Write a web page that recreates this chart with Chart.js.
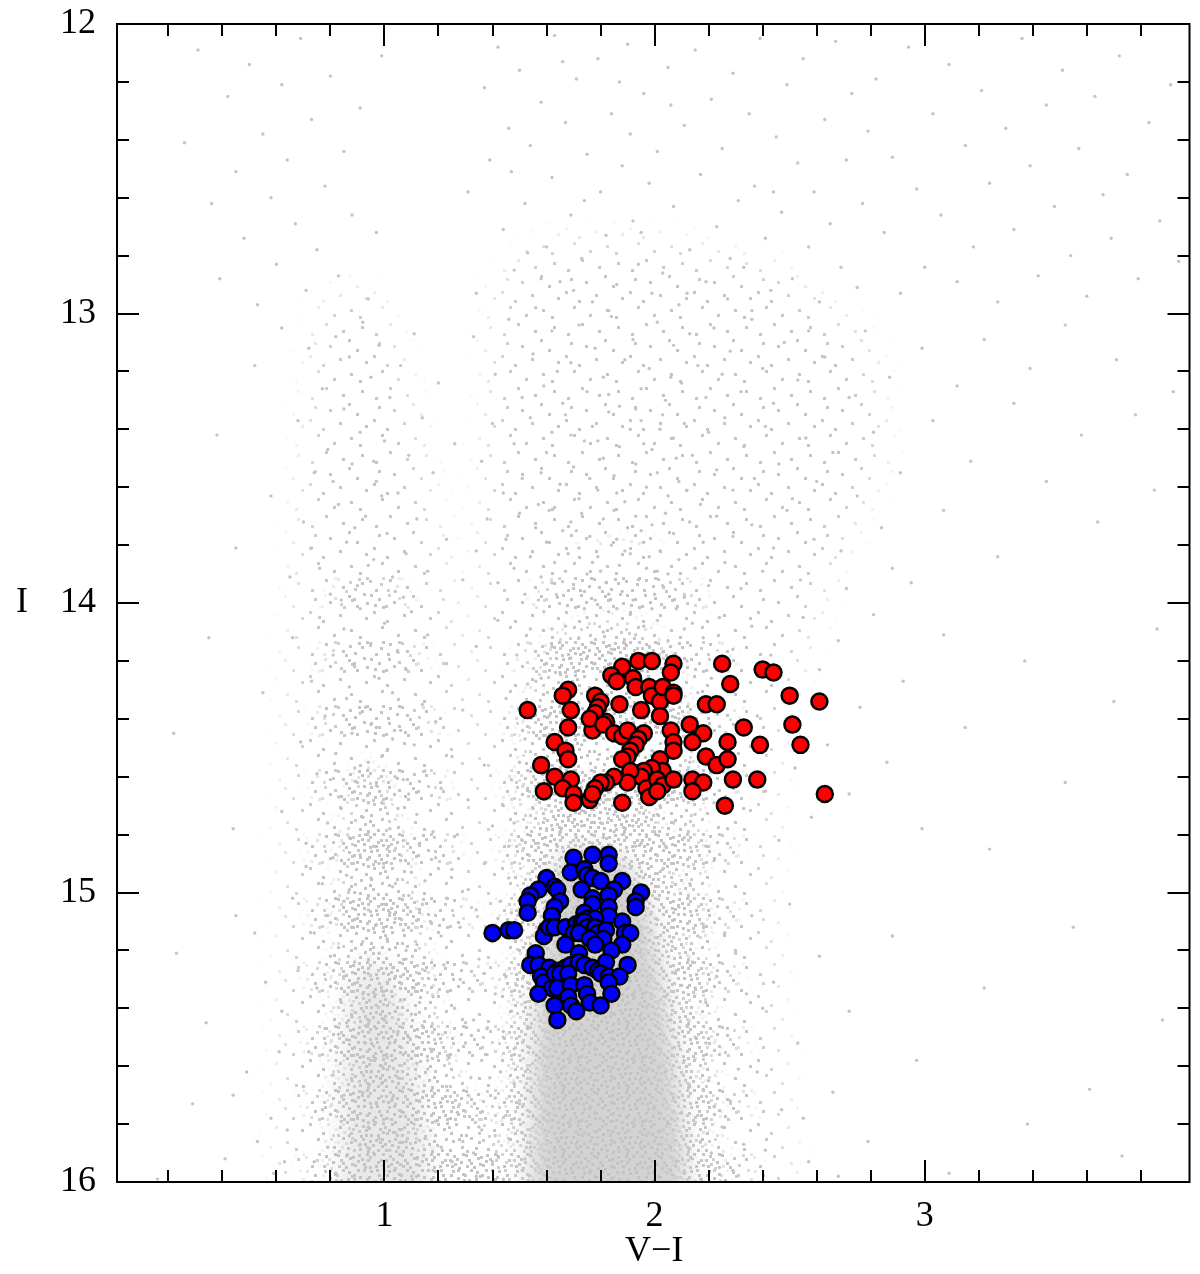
<!DOCTYPE html>
<html>
<head>
<meta charset="utf-8">
<script src="https://cdn.jsdelivr.net/npm/chart.js@4.4.1/dist/chart.umd.min.js"></script>
<style>
  html, body { margin: 0; padding: 0; background: #fff; }
  canvas { display: block; }
</style>
</head>
<body>
<canvas id="cmd" width="1200" height="1274"></canvas>
<script>
/* ── Colour–magnitude diagram: I vs V−I ── */

// axis ranges and tick values
const xRange = [0.01, 3.98];
const yRange = [12, 16];
const xMajor = [1, 2, 3];
const xMinor = [0.2, 0.4, 0.6, 0.8, 1.2, 1.4, 1.6, 1.8, 2.2, 2.4, 2.6, 2.8, 3.2, 3.4, 3.6, 3.8];
const yMajor = [12, 13, 14, 15, 16];
const yMinor = [12.2, 12.4, 12.6, 12.8, 13.2, 13.4, 13.6, 13.8, 14.2, 14.4, 14.6, 14.8, 15.2, 15.4, 15.6, 15.8];

// red clump sample (V−I, I)
const redStars = [
  1.53,14.37, 1.68,14.30, 1.66,14.32, 1.69,14.37, 1.68,14.43, 1.63,14.48, 1.58,14.56, 1.67,14.51,
  1.68,14.54, 1.63,14.60, 1.59,14.65, 1.69,14.61, 1.66,14.64, 1.70,14.66, 1.70,14.69, 1.77,14.44,
  1.78,14.32, 1.80,14.34, 1.79,14.36, 1.78,14.38, 1.76,14.40, 1.87,14.35, 1.82,14.41, 1.81,14.42,
  1.85,14.45, 1.88,14.46, 1.90,14.44, 1.88,14.22, 1.94,14.20, 1.99,14.20, 2.07,14.21, 2.06,14.24,
  1.84,14.25, 1.86,14.27, 1.92,14.26, 1.93,14.29, 1.95,14.37, 1.98,14.29, 1.99,14.32, 2.02,14.34,
  2.03,14.29, 2.07,14.31, 2.02,14.39, 2.06,14.44, 2.07,14.48, 2.07,14.51, 1.96,14.45, 1.94,14.47,
  1.93,14.49, 1.91,14.51, 1.90,14.53, 1.88,14.54, 2.02,14.54, 2.03,14.58, 1.99,14.57, 1.96,14.58,
  1.95,14.60, 1.91,14.58, 1.90,14.62, 1.85,14.60, 1.82,14.62, 1.80,14.62, 1.78,14.64, 1.76,14.68,
  1.77,14.66, 1.88,14.69, 1.97,14.64, 1.98,14.67, 2.01,14.61, 2.03,14.63, 2.07,14.61, 2.01,14.65,
  2.07,14.32, 2.25,14.21, 2.40,14.23, 2.44,14.24, 2.28,14.28, 2.19,14.35, 2.23,14.35, 2.50,14.32,
  2.61,14.34, 2.13,14.42, 2.33,14.43, 2.51,14.42, 2.18,14.45, 2.14,14.48, 2.27,14.48, 2.39,14.49,
  2.54,14.49, 2.19,14.53, 2.23,14.56, 2.27,14.54, 2.29,14.61, 2.38,14.61, 2.14,14.61, 2.18,14.62,
  2.14,14.65, 2.26,14.70, 2.63,14.66
];

// blue sample (V−I, I)
const blueStars = [
  1.70,14.88, 1.77,14.87, 1.83,14.87, 1.83,14.90, 1.69,14.93, 1.74,14.92, 1.75,14.94, 1.77,14.95,
  1.80,14.96, 1.60,14.95, 1.88,14.96, 1.57,14.99, 1.63,14.98, 1.64,14.99, 1.73,14.99, 1.85,14.99,
  1.83,15.01, 1.95,15.00, 1.93,15.03, 1.93,15.05, 1.54,15.01, 1.53,15.03, 1.65,15.03, 1.77,15.02,
  1.77,15.04, 1.53,15.07, 1.63,15.05, 1.62,15.08, 1.83,15.05, 1.83,15.08, 1.74,15.07, 1.75,15.09,
  1.78,15.09, 1.88,15.10, 1.40,15.14, 1.46,15.13, 1.48,15.13, 1.60,15.13, 1.59,15.15, 1.61,15.12,
  1.63,15.12, 1.67,15.12, 1.71,15.11, 1.73,15.10, 1.74,15.10, 1.75,15.12, 1.78,15.12, 1.79,15.14,
  1.82,15.13, 1.81,15.16, 1.70,15.14, 1.72,15.14, 1.89,15.14, 1.91,15.14, 1.67,15.18, 1.76,15.16,
  1.78,15.18, 1.88,15.18, 1.56,15.21, 1.72,15.21, 1.84,15.20, 1.54,15.25, 1.57,15.25, 1.61,15.26,
  1.64,15.27, 1.67,15.26, 1.69,15.25, 1.72,15.24, 1.74,15.25, 1.77,15.26, 1.79,15.27, 1.82,15.24,
  1.90,15.25, 1.58,15.29, 1.59,15.31, 1.63,15.28, 1.65,15.28, 1.68,15.28, 1.80,15.28, 1.83,15.29,
  1.87,15.29, 1.62,15.33, 1.64,15.33, 1.69,15.32, 1.74,15.32, 1.83,15.31, 1.57,15.35, 1.68,15.36,
  1.75,15.35, 1.76,15.38, 1.84,15.35, 1.63,15.39, 1.69,15.39, 1.71,15.41, 1.80,15.39, 1.64,15.44
];

// field stars, upper part (I 12 – 13)
const fieldUpper = [
  0.26,12.41, 0.31,12.09, 0.36,12.62, 0.39,12.88, 0.42,12.25, 0.45,12.51, 0.48,12.74, 0.50,12.14,
  0.53,12.97, 0.55,12.38, 0.58,12.60, 0.60,12.83, 0.62,12.21, 0.64,12.47, 0.67,12.69, 0.69,12.05,
  0.71,12.92, 0.73,12.33, 0.75,12.78, 0.78,12.56, 0.80,12.18, 0.83,12.87, 0.85,12.44, 0.88,12.66,
  0.91,12.29, 0.94,12.95, 0.97,12.72, 0.99,12.11,
  1.31,12.58, 1.34,12.93, 1.37,12.22, 1.39,12.47, 1.42,12.08, 1.44,12.71, 1.46,12.36, 1.48,12.85,
  1.50,12.16, 1.52,12.62, 1.54,12.42, 1.56,12.98, 1.58,12.27, 1.60,12.77, 1.62,12.53, 1.63,12.04,
  1.65,12.89, 1.67,12.34, 1.69,12.66, 1.71,12.19, 1.73,12.81, 1.75,12.45, 1.77,12.96, 1.79,12.12,
  1.80,12.58, 1.82,12.73, 1.84,12.31, 1.86,12.90, 1.88,12.49, 1.90,12.07, 1.92,12.68, 1.94,12.83,
  1.96,12.24, 1.98,12.55, 1.99,12.93, 1.47,12.51, 1.58,12.88, 1.66,12.13, 1.74,12.61, 1.83,12.99,
  1.91,12.38, 1.53,12.79, 1.70,12.92, 1.87,12.20, 1.95,12.72,
  2.01,12.44, 2.03,12.86, 2.05,12.15, 2.07,12.63, 2.09,12.97, 2.11,12.35, 2.13,12.78, 2.15,12.09,
  2.17,12.52, 2.19,12.89, 2.21,12.26, 2.23,12.70, 2.25,12.43, 2.27,12.95, 2.29,12.17, 2.31,12.61,
  2.33,12.84, 2.35,12.31, 2.37,12.56, 2.39,12.05, 2.41,12.74, 2.43,12.92, 2.45,12.39, 2.47,12.65,
  2.49,12.21, 2.51,12.88, 2.53,12.48, 2.55,12.12, 2.57,12.77, 2.59,12.58, 2.61,12.96, 2.63,12.33,
  2.65,12.69, 2.67,12.06, 2.69,12.84, 2.71,12.47, 2.73,12.24, 2.75,12.91, 2.77,12.62, 2.79,12.37,
  2.12,12.93, 2.28,12.81, 2.44,12.58, 2.06,12.28, 2.36,12.99,
  2.82,12.19, 2.85,12.72, 2.88,12.46, 2.91,12.93, 2.94,12.08, 2.97,12.57, 3.00,12.84, 3.03,12.31,
  3.06,12.66, 3.09,12.14, 3.12,12.89, 3.15,12.42, 3.18,12.77, 3.21,12.23, 3.24,12.55, 3.27,12.96,
  3.30,12.36, 3.33,12.71, 3.36,12.05, 3.39,12.49, 3.42,12.87, 3.45,12.28, 3.48,12.63, 3.51,12.16,
  3.54,12.80, 3.57,12.43, 3.60,12.94, 3.63,12.25, 3.66,12.59, 3.69,12.74, 3.72,12.11, 3.75,12.52,
  3.79,12.88, 3.83,12.34, 3.87,12.68, 3.91,12.21, 3.94,12.82
];

// field stars, I 13 – 14
const fieldMiddle = [
  0.38,13.42, 0.45,13.81, 0.52,13.18, 0.58,13.63, 0.62,13.05, 0.65,13.91, 0.68,13.37, 0.70,13.72,
  0.72,13.12, 0.74,13.55, 0.76,13.88, 0.77,13.26, 0.79,13.47, 0.80,13.97, 0.82,13.08, 0.83,13.66,
  0.85,13.33, 0.86,13.79, 0.87,13.15, 0.88,13.52, 0.90,13.94, 0.91,13.41, 0.92,13.03, 0.93,13.70,
  0.95,13.22, 0.96,13.85, 0.97,13.58, 0.98,13.11, 1.00,13.44, 1.01,13.76, 1.02,13.29, 1.04,13.96,
  1.05,13.62, 1.06,13.18, 1.08,13.83, 1.09,13.49, 1.11,13.07, 1.12,13.71, 1.14,13.36, 1.16,13.89,
  1.18,13.55, 1.20,13.24, 1.23,13.78, 1.26,13.45, 1.29,13.92, 0.84,13.99, 0.94,13.87, 1.03,13.91,
  0.89,13.74, 0.99,13.63, 0.81,13.58, 0.73,13.81, 1.07,13.98, 0.96,13.51,
  1.33,13.08, 1.41,13.21, 1.46,13.02, 1.51,13.29, 1.55,13.14, 1.59,13.25, 1.62,13.06, 1.66,13.31,
  1.69,13.17, 1.72,13.04, 1.75,13.27, 1.78,13.12, 1.81,13.22, 1.84,13.01, 1.87,13.32, 1.89,13.16,
  1.92,13.09, 1.95,13.26, 1.98,13.19, 2.01,13.03, 2.04,13.30, 2.07,13.11, 2.10,13.24, 2.13,13.07,
  2.16,13.18, 2.19,13.29, 2.22,13.05, 2.25,13.21, 2.28,13.13, 2.32,13.27, 2.36,13.02, 2.40,13.19,
  2.44,13.31, 2.48,13.10, 2.53,13.23, 2.57,13.06, 1.64,13.20, 1.83,13.28, 2.06,13.22, 1.93,13.33,
  1.36,13.51, 1.40,13.38, 1.44,13.62, 1.48,13.45, 1.51,13.57, 1.54,13.36, 1.57,13.66, 1.60,13.48,
  1.62,13.41, 1.65,13.59, 1.67,13.35, 1.70,13.53, 1.72,13.64, 1.74,13.44, 1.77,13.39, 1.79,13.61,
  1.81,13.50, 1.83,13.34, 1.85,13.56, 1.87,13.46, 1.89,13.65, 1.91,13.40, 1.93,13.52, 1.95,13.37,
  1.97,13.60, 1.99,13.47, 2.01,13.55, 2.03,13.35, 2.05,13.63, 2.07,13.43, 2.09,13.58, 2.11,13.38,
  2.14,13.49, 2.17,13.66, 2.20,13.41, 2.23,13.54, 2.26,13.36, 2.29,13.61, 2.33,13.46, 2.37,13.57,
  2.41,13.39, 2.46,13.52, 2.51,13.64, 2.56,13.43, 2.60,13.58, 1.58,13.55, 1.69,13.42, 1.76,13.57,
  1.86,13.62, 1.96,13.45, 2.02,13.40, 2.12,13.61, 1.63,13.67, 1.79,13.44, 2.08,13.50,
  1.34,13.82, 1.38,13.71, 1.42,13.93, 1.45,13.78, 1.48,13.88, 1.50,13.69, 1.52,13.97, 1.54,13.84,
  1.56,13.74, 1.58,13.91, 1.60,13.79, 1.61,13.68, 1.63,13.86, 1.64,13.98, 1.66,13.75, 1.67,13.89,
  1.69,13.72, 1.70,13.95, 1.72,13.81, 1.73,13.69, 1.75,13.90, 1.76,13.77, 1.78,13.99, 1.79,13.84,
  1.81,13.71, 1.82,13.93, 1.84,13.80, 1.85,13.68, 1.87,13.87, 1.88,13.96, 1.90,13.74, 1.91,13.83,
  1.93,13.70, 1.94,13.92, 1.96,13.79, 1.97,13.88, 1.99,13.73, 2.00,13.97, 2.02,13.82, 2.04,13.69,
  2.05,13.90, 2.07,13.76, 2.09,13.85, 2.11,13.98, 2.13,13.72, 2.15,13.88, 2.18,13.79, 2.20,13.94,
  2.23,13.70, 2.26,13.86, 2.29,13.77, 2.32,13.95, 2.36,13.73, 2.40,13.89, 2.44,13.81, 2.49,13.68,
  2.54,13.92, 2.59,13.78, 1.57,13.99, 1.62,13.93, 1.68,13.83, 1.74,13.96, 1.80,13.89, 1.86,13.78,
  1.92,13.99, 1.98,13.84, 2.03,13.94, 1.71,13.75, 1.77,13.86, 1.83,13.97, 1.89,13.82, 1.95,13.75,
  2.01,13.89,
  2.63,13.15, 2.66,13.48, 2.69,13.82, 2.72,13.29, 2.75,13.63, 2.78,13.06, 2.81,13.41, 2.84,13.74,
  2.87,13.22, 2.91,13.55, 2.95,13.93, 2.99,13.12, 3.03,13.37, 3.07,13.68, 3.12,13.25, 3.17,13.51,
  3.22,13.09, 3.27,13.84, 3.33,13.31, 3.39,13.19, 3.45,13.58, 3.52,13.04, 3.58,13.42, 3.64,13.72,
  3.71,13.16, 3.78,13.35, 3.85,13.61, 3.92,13.27, 2.71,13.95, 2.88,13.88
];

// field stars, I 14 – 14.85
const fieldLower = [
  0.55,14.31, 0.62,14.72, 0.66,14.12, 0.69,14.48, 0.71,14.83, 0.73,14.27, 0.75,14.59, 0.76,14.05,
  0.78,14.39, 0.79,14.76, 0.81,14.18, 0.82,14.52, 0.83,14.67, 0.85,14.09, 0.86,14.33, 0.87,14.81,
  0.88,14.45, 0.89,14.22, 0.90,14.62, 0.91,14.02, 0.92,14.74, 0.93,14.36, 0.94,14.55, 0.95,14.14,
  0.96,14.84, 0.97,14.43, 0.98,14.26, 0.99,14.69, 1.00,14.07, 1.01,14.51, 1.02,14.78, 1.03,14.31,
  1.04,14.60, 1.05,14.17, 1.06,14.44, 1.07,14.82, 1.08,14.23, 1.09,14.66, 1.10,14.03, 1.11,14.49,
  1.12,14.73, 1.14,14.35, 1.15,14.58, 1.16,14.11, 1.18,14.79, 1.19,14.41, 1.21,14.64, 1.23,14.21,
  1.25,14.53, 1.27,14.80, 1.29,14.37, 1.31,14.68, 1.34,14.15, 1.37,14.56, 1.40,14.77, 0.84,14.71,
  0.89,14.57, 0.93,14.80, 0.97,14.63, 1.01,14.85, 1.05,14.71, 0.87,14.29, 0.95,14.42, 1.03,14.47,
  0.91,14.38, 0.80,14.61, 0.99,14.53, 1.07,14.61, 1.13,14.83, 0.94,14.69,
  1.42,14.06, 1.45,14.33, 1.47,14.61, 1.49,14.18, 1.51,14.82, 1.52,14.47, 1.54,14.09, 1.55,14.71,
  1.56,14.27, 1.58,14.56, 1.59,14.03, 1.60,14.78, 1.61,14.39, 1.62,14.15, 1.63,14.66, 1.64,14.84,
  1.65,14.24, 1.66,14.52, 1.67,14.08, 1.68,14.74, 1.69,14.19, 1.70,14.58, 1.71,14.81, 1.72,14.12,
  1.73,14.49, 1.74,14.72, 1.75,14.05, 1.76,14.63, 1.77,14.83, 1.78,14.21, 1.79,14.54, 1.80,14.76,
  1.81,14.10, 1.82,14.68, 1.83,14.85, 1.84,14.16, 1.85,14.73, 1.86,14.02, 1.87,14.57, 1.88,14.80,
  1.89,14.14, 1.90,14.69, 1.91,14.04, 1.92,14.77, 1.93,14.11, 1.94,14.62, 1.95,14.83, 1.96,14.08,
  1.97,14.74, 1.98,14.15, 1.99,14.51, 2.00,14.79, 2.01,14.06, 2.02,14.70, 2.03,14.17, 2.04,14.84,
  2.05,14.13, 2.06,14.59, 2.07,14.76, 2.08,14.02, 2.09,14.40, 2.10,14.67, 2.11,14.81, 2.12,14.20,
  2.13,14.55, 2.14,14.07, 2.15,14.73, 2.16,14.31, 2.17,14.62, 2.18,14.12, 2.19,14.84, 2.20,14.45,
  2.21,14.26, 2.22,14.69, 2.24,14.05, 2.25,14.58, 2.27,14.78, 2.29,14.16, 2.31,14.52, 2.33,14.71,
  1.48,14.76, 1.53,14.64, 1.57,14.83, 1.61,14.70, 1.65,14.79, 1.69,14.85, 1.73,14.77, 1.77,14.71,
  1.81,14.81, 1.85,14.79, 1.89,14.74, 1.93,14.84, 1.97,14.80, 2.01,14.73, 1.58,14.26, 1.67,14.31,
  1.74,14.02, 1.83,14.03, 1.99,14.02, 2.11,14.09, 1.62,14.09, 1.72,14.37, 1.50,14.55, 1.44,14.70,
  1.53,14.28, 1.46,14.84,
  2.36,14.08, 2.38,14.39, 2.41,14.65, 2.43,14.18, 2.46,14.82, 2.49,14.30, 2.52,14.57, 2.55,14.05,
  2.58,14.74, 2.61,14.23, 2.64,14.49, 2.68,14.13, 2.72,14.66, 2.76,14.36, 2.81,14.04, 2.86,14.55,
  2.92,14.27, 2.99,14.78, 3.07,14.11, 3.15,14.43, 3.24,14.85, 3.37,14.20, 3.52,14.62, 3.70,14.34,
  3.86,14.09, 0.22,14.45, 0.35,14.12, 0.44,14.78
];

// field stars, I 14.85 – 16
const fieldBottom = [
  0.66,15.02, 0.71,14.91, 0.74,15.14, 0.77,14.97, 0.79,15.08, 0.81,14.88, 0.83,15.19, 0.85,15.03,
  0.86,14.94, 0.88,15.12, 0.89,15.00, 0.91,14.87, 0.92,15.17, 0.94,15.06, 0.95,14.95, 0.97,15.11,
  0.98,14.90, 1.00,15.04, 1.01,15.16, 1.03,14.98, 1.04,15.09, 1.06,14.89, 1.07,15.13, 1.09,15.01,
  1.10,14.93, 1.12,15.18, 1.13,15.07, 1.15,14.96, 1.17,15.10, 1.19,14.88, 1.21,15.15, 1.23,15.02,
  1.25,14.92, 1.28,15.12, 1.31,14.99, 1.34,15.06, 1.37,14.90, 1.40,15.17, 1.43,15.03, 0.90,15.09,
  0.96,15.19, 1.02,15.07, 1.08,15.20, 1.14,15.04, 0.87,14.99,
  0.62,15.41, 0.68,15.27, 0.72,15.55, 0.75,15.33, 0.78,15.47, 0.80,15.22, 0.82,15.58, 0.84,15.38,
  0.85,15.29, 0.87,15.51, 0.88,15.43, 0.89,15.24, 0.91,15.57, 0.92,15.35, 0.93,15.46, 0.94,15.28,
  0.96,15.53, 0.97,15.39, 0.98,15.21, 0.99,15.60, 1.00,15.44, 1.01,15.31, 1.02,15.52, 1.03,15.26,
  1.05,15.48, 1.06,15.37, 1.07,15.56, 1.08,15.23, 1.10,15.42, 1.11,15.33, 1.12,15.59, 1.14,15.46,
  1.15,15.27, 1.17,15.54, 1.18,15.36, 1.20,15.49, 1.22,15.25, 1.24,15.57, 1.26,15.40, 1.28,15.30,
  1.30,15.52, 1.33,15.44, 1.35,15.23, 1.38,15.56, 1.41,15.35, 1.44,15.48, 0.86,15.45, 0.90,15.31,
  0.95,15.58, 0.99,15.34, 1.04,15.41, 1.09,15.50, 1.13,15.38, 0.93,15.52, 0.97,15.47, 1.01,15.57,
  1.06,15.29, 0.83,15.49, 1.16,15.58,
  0.64,15.82, 0.70,15.67, 0.74,15.93, 0.77,15.75, 0.79,15.88, 0.81,15.63, 0.82,15.97, 0.84,15.79,
  0.85,15.70, 0.86,15.91, 0.87,15.84, 0.88,15.65, 0.89,15.99, 0.90,15.77, 0.91,15.87, 0.92,15.69,
  0.93,15.95, 0.94,15.81, 0.95,15.62, 0.96,15.90, 0.97,15.73, 0.98,15.85, 0.99,15.66, 1.00,15.96,
  1.01,15.78, 1.02,15.89, 1.03,15.71, 1.04,15.83, 1.05,15.64, 1.06,15.94, 1.07,15.76, 1.08,15.86,
  1.09,15.68, 1.10,15.98, 1.11,15.80, 1.12,15.92, 1.13,15.72, 1.15,15.85, 1.16,15.61, 1.18,15.96,
  1.19,15.79, 1.21,15.88, 1.23,15.67, 1.25,15.93, 1.27,15.76, 1.29,15.86, 1.31,15.70, 1.34,15.98,
  1.36,15.82, 1.39,15.64, 1.42,15.91, 1.45,15.77,
  1.32,15.64, 1.35,15.81, 1.38,15.47, 1.40,15.93, 1.43,15.62, 1.45,15.29, 1.46,15.85, 1.48,15.54,
  1.49,15.12, 1.50,15.73, 1.51,15.96, 1.52,15.38, 1.53,15.61, 1.54,15.88, 1.55,15.24, 1.47,15.41,
  1.44,15.99, 1.41,15.71, 1.37,15.28, 1.33,15.90, 1.30,15.45, 1.42,15.09, 1.46,14.95, 1.50,15.20,
  1.53,15.02, 1.39,15.15, 1.48,15.66, 1.51,15.83, 1.36,15.58, 1.44,15.50, 1.52,15.92, 1.49,15.32,
  1.55,15.77, 1.53,15.47, 1.47,15.07, 1.41,15.84,
  2.03,14.92, 2.05,15.18, 2.06,15.44, 2.07,15.71, 2.08,15.93, 2.09,15.05, 2.10,15.32, 2.11,15.58,
  2.12,15.84, 2.13,14.97, 2.14,15.24, 2.15,15.50, 2.16,15.77, 2.17,15.99, 2.18,15.11, 2.19,15.38,
  2.20,15.65, 2.21,15.90, 2.22,14.89, 2.23,15.29, 2.24,15.56, 2.25,15.81, 2.26,15.14, 2.27,15.47,
  2.28,15.72, 2.29,15.96, 2.30,15.21, 2.31,15.61, 2.33,15.87, 2.34,15.35, 2.04,15.62, 2.06,15.88,
  2.08,15.27, 2.10,15.76, 2.12,15.46, 2.14,15.92, 2.16,15.15, 2.18,15.68, 2.04,15.36, 2.07,15.07,
  2.09,15.53, 2.11,15.97, 2.13,15.67, 2.15,15.33, 2.17,15.86, 2.05,15.80, 2.02,15.49, 2.19,15.52,
  2.22,15.74, 2.06,15.96, 2.24,15.95,
  2.36,15.08, 2.38,15.62, 2.41,15.89, 2.44,15.31, 2.47,15.75, 2.50,15.04, 2.53,15.52, 2.57,15.93,
  2.61,15.22, 2.66,15.69, 2.72,15.41, 2.79,15.86, 2.88,15.15, 2.97,15.58, 3.09,15.97, 3.22,15.33,
  3.38,15.80, 3.55,15.12, 3.61,15.68, 3.73,15.91, 3.88,15.44, 2.40,15.40, 2.55,15.78, 2.68,15.98,
  0.16,15.99, 0.23,15.21, 0.29,15.73, 0.34,15.45, 0.41,15.92, 0.45,15.08, 0.49,15.62, 0.53,15.86,
  0.56,15.31, 0.59,15.97, 0.61,15.55, 0.52,15.14, 0.44,15.70, 0.58,15.78, 0.63,15.93
];

// crowding contours (V−I, I), from sparse to nearly solid
const crowdLight = [
  [1.35,16.0, 1.35,15.0, 1.36,14.2, 1.38,13.5, 1.42,12.9, 1.60,12.75, 2.00,12.75, 2.45,12.85, 2.80,13.1, 2.85,13.5, 2.60,14.0, 2.45,14.5, 2.42,15.0, 2.50,16.0],
  [0.62,16.0, 0.64,15.0, 0.66,14.3, 0.70,13.6, 0.76,13.0, 0.88,12.9, 1.00,13.0, 1.10,13.3, 1.22,13.9, 1.30,14.4, 1.35,15.0, 1.40,16.0]
];
const crowdMedium = [
  [0.72,16.0, 0.73,15.4, 0.75,14.9, 0.77,14.4, 0.80,14.0, 0.88,13.85, 0.98,13.85, 1.08,14.0, 1.15,14.3, 1.22,14.7, 1.30,15.1, 1.40,15.4, 1.45,16.0],
  [1.42,16.0, 1.43,15.4, 1.45,14.9, 1.47,14.5, 1.52,14.15, 1.60,13.9, 1.78,13.8, 1.98,13.8, 2.15,13.95, 2.28,14.25, 2.30,14.7, 2.28,15.1, 2.32,15.6, 2.36,16.0]
];
const crowdDense = [
  [0.80,16.0, 0.81,15.5, 0.83,15.0, 0.86,14.7, 0.92,14.55, 1.00,14.6, 1.08,14.85, 1.15,15.2, 1.22,15.5, 1.30,15.7, 1.40,15.8, 1.48,16.0],
  [1.46,16.0, 1.47,15.5, 1.49,15.0, 1.50,14.6, 1.54,14.3, 1.62,14.12, 1.78,14.05, 1.98,14.08, 2.10,14.25, 2.16,14.6, 2.18,15.0, 2.21,15.5, 2.25,16.0]
];
const crowdCore = [
  [1.48,16.0, 1.49,15.5, 1.52,15.0, 1.56,14.72, 1.70,14.6, 1.90,14.62, 2.05,14.8, 2.12,15.2, 2.16,15.6, 2.20,16.0]
];
const crowdPlume = [
  [0.84,16.0, 0.85,15.6, 0.88,15.3, 0.98,15.22, 1.07,15.4, 1.13,15.7, 1.17,16.0]
];
const crowdSolid = [
  [1.54,16.0, 1.55,15.6, 1.57,15.3, 1.61,15.0, 1.67,14.86, 1.85,14.86, 1.96,15.0, 2.03,15.3, 2.08,15.6, 2.12,16.0]
];

// speckle offsets inside one 64 px texture tile (first entries spread widest)
const speckle = [
  5,3, 22,10, 41,6, 55,13, 9,25, 28,19, 36,29, 58,22, 2,44, 19,38, 45,41, 53,35, 13,58, 30,53, 39,60, 61,50,
  12,9, 3,13, 14,1, 17,2, 29,5, 25,14, 34,12, 46,1, 38,2, 49,4, 60,7, 62,1,
  4,18, 14,21, 1,29, 20,27, 31,23, 23,30, 43,17, 33,22, 46,26, 50,18, 54,28, 62,30,
  7,35, 12,46, 0,38, 26,33, 30,44, 17,46, 35,36, 40,47, 47,33, 59,40, 50,46, 62,34,
  4,52, 10,50, 1,61, 22,49, 18,62, 27,59, 34,51, 44,55, 47,62, 52,56, 57,61, 49,52,
  8,6, 1,7, 10,15, 6,11, 20,7, 26,1, 31,11, 18,13, 37,8, 43,11, 32,4, 47,7, 53,1, 57,9, 62,12, 49,14,
  9,17, 6,30, 15,27, 2,22, 16,22, 27,26, 22,17, 30,30, 39,24, 32,30, 42,31, 37,17, 56,17, 48,24, 60,26, 52,31,
  4,41, 10,33, 14,40, 8,43, 22,35, 16,40, 28,39, 23,43, 38,42, 32,40, 42,37, 45,46, 48,39, 54,33, 57,46, 62,43,
  7,56, 14,53, 0,55, 11,62, 17,53, 25,54, 31,49, 21,58, 38,56, 33,61, 42,50, 46,58, 55,51, 61,57, 48,59, 59,53
];

const toPoints = (flat) => {
  const pts = [];
  for (let i = 0; i < flat.length; i += 2) pts.push({ x: flat[i], y: flat[i + 1] });
  return pts;
};

const SERIF = '"Liberation Serif", "DejaVu Serif", serif';
const GREY = '#c4c4c4';

// one repeating texture tile: `count` speckles of w×h px, shifted by (dx, dy)
function speckleTile(count, w, h, dx, dy, background) {
  const tile = document.createElement('canvas');
  tile.width = 64; tile.height = 64;
  const t = tile.getContext('2d');
  if (background) { t.fillStyle = background; t.fillRect(0, 0, 64, 64); }
  t.fillStyle = GREY;
  for (let i = 0; i < count * 2 && i < speckle.length; i += 2) {
    const sx = (speckle[i] + dx) % 64, sy = (speckle[i + 1] + dy) % 64;
    t.fillRect(sx, sy, w, h);
    if (sx + w > 64) t.fillRect(sx - 64, sy, w, h);
    if (sy + h > 64) t.fillRect(sx, sy - 64, w, h);
  }
  return tile;
}

// crowded areas: speckled patches with feathered edges, behind the listed stars
const crowdingPlugin = {
  id: 'crowding',
  beforeDatasetsDraw(chart) {
    const { ctx, chartArea: a, scales, width, height } = chart;
    const level = (shapes, tile, feather) => {
      const off = document.createElement('canvas');
      off.width = width; off.height = height;
      const o = off.getContext('2d');
      o.filter = `blur(${feather}px)`;
      o.fillStyle = '#000';
      shapes.forEach(flat => {
        o.beginPath();
        for (let i = 0; i < flat.length; i += 2) {
          const px = scales.x.getPixelForValue(flat[i]);
          const py = scales.y.getPixelForValue(flat[i + 1]);
          if (i === 0) o.moveTo(px, py); else o.lineTo(px, py);
        }
        // carry shapes that end on I = 16 past the frame so the feather stays inside
        const last = flat.length - 2;
        if (flat[1] === 16 && flat[last + 1] === 16) {
          o.lineTo(scales.x.getPixelForValue(flat[last]), a.bottom + 40);
          o.lineTo(scales.x.getPixelForValue(flat[0]), a.bottom + 40);
        }
        o.closePath();
        o.fill();
      });
      o.filter = 'none';
      o.globalCompositeOperation = 'source-in';
      o.fillStyle = o.createPattern(tile, 'repeat');
      o.fillRect(0, 0, width, height);
      ctx.drawImage(off, 0, 0);
    };
    ctx.save();
    ctx.beginPath();
    ctx.rect(a.left, a.top, a.right - a.left, a.bottom - a.top);
    ctx.clip();
    level(crowdLight, speckleTile(16, 3, 3, 0, 0), 16);
    level(crowdMedium, speckleTile(40, 3, 3, 0, 0), 12);
    level(crowdDense, speckleTile(96, 3, 3, 0, 0), 10);
    level(crowdCore, speckleTile(144, 3, 3, 0, 0), 10);
    level(crowdPlume, speckleTile(144, 3, 3, 0, 0, '#e8e8e8'), 12);
    level(crowdSolid, speckleTile(144, 3, 3, 3, 2, '#d3d3d3'), 12);
    ctx.restore();
  }
};

// box, inward ticks on all four sides, labels
const framePlugin = {
  id: 'frame',
  afterDatasetsDraw(chart) {
    const { ctx, chartArea: a, scales } = chart;
    const major = 22, minor = 12;
    ctx.save();
    ctx.strokeStyle = '#000';
    ctx.lineWidth = 2;
    ctx.strokeRect(a.left, a.top, a.right - a.left, a.bottom - a.top);

    const xTick = (v, len) => {
      const px = Math.round(scales.x.getPixelForValue(v));
      ctx.beginPath();
      ctx.moveTo(px, a.bottom); ctx.lineTo(px, a.bottom - len);
      ctx.moveTo(px, a.top); ctx.lineTo(px, a.top + len);
      ctx.stroke();
    };
    const yTick = (v, len) => {
      const py = Math.round(scales.y.getPixelForValue(v));
      ctx.beginPath();
      ctx.moveTo(a.left, py); ctx.lineTo(a.left + len, py);
      ctx.moveTo(a.right, py); ctx.lineTo(a.right - len, py);
      ctx.stroke();
    };
    xMinor.forEach(v => xTick(v, minor));
    xMajor.forEach(v => xTick(v, major));
    yMinor.forEach(v => yTick(v, minor));
    yMajor.forEach(v => yTick(v, major));

    ctx.fillStyle = '#000';
    ctx.font = `36px ${SERIF}`;
    ctx.textAlign = 'center';
    ctx.textBaseline = 'middle';
    xMajor.forEach(v => ctx.fillText(String(v), scales.x.getPixelForValue(v), a.bottom + 35));
    ctx.textAlign = 'right';
    yMajor.forEach(v => ctx.fillText(String(v), a.left - 21, scales.y.getPixelForValue(v)));

    ctx.textAlign = 'center';
    ctx.fillText('V\u2212I', (a.left + a.right) / 2 + 1, a.bottom + 70);
    ctx.fillText('I', 22, scales.y.getPixelForValue(14));
    ctx.restore();
  }
};

const starDataset = (data, color) => ({
  data: toPoints(data),
  backgroundColor: color,
  borderColor: '#000',
  borderWidth: 2.5,
  pointRadius: 8,
  order: 0
});

const fieldDataset = (data) => ({
  data: toPoints(data),
  backgroundColor: GREY,
  borderWidth: 0,
  pointRadius: 1.7,
  order: 1
});

new Chart(document.getElementById('cmd'), {
  type: 'scatter',
  data: {
    datasets: [
      starDataset(redStars, '#ff0000'),
      starDataset(blueStars, '#0000ff'),
      fieldDataset(fieldUpper),
      fieldDataset(fieldMiddle),
      fieldDataset(fieldLower),
      fieldDataset(fieldBottom)
    ]
  },
  options: {
    responsive: false,
    animation: false,
    devicePixelRatio: 1,
    layout: { padding: { left: 117, top: 24, right: 8, bottom: 92 } },
    plugins: { legend: { display: false }, tooltip: { enabled: false } },
    scales: {
      x: { type: 'linear', min: xRange[0], max: xRange[1], display: false },
      y: { type: 'linear', min: yRange[0], max: yRange[1], reverse: true, display: false }
    }
  },
  plugins: [crowdingPlugin, framePlugin]
});
</script>
</body>
</html>
